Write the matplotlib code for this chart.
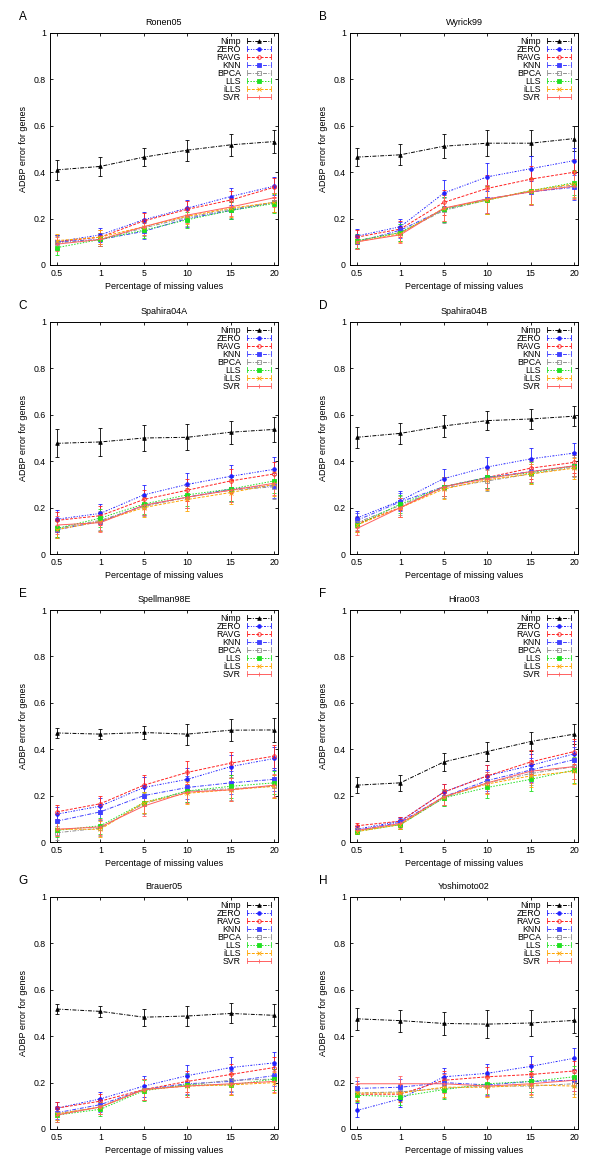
import matplotlib
matplotlib.use("Agg")
import matplotlib.pyplot as plt
from matplotlib.lines import Line2D
from matplotlib.legend_handler import HandlerLine2D
import numpy as np

plt.rcParams['font.family'] = ['Liberation Sans', 'DejaVu Sans']

x_labels = ["0.5", "1", "5", "10", "15", "20"]
methods = ["Nimp", "ZERO", "RAVG", "KNN", "BPCA", "LLS", "iLLS", "SVR"]
letters = ["A", "B", "C", "D", "E", "F", "G", "H"]
titles = ["Ronen05", "Wyrick99", "Spahira04A", "Spahira04B",
          "Spellman98E", "Hirao03", "Brauer05", "Yoshimoto02"]

# values per panel, per method (order as in `methods`)
ronen05 = [
    [0.410, 0.425, 0.465, 0.495, 0.518, 0.532],
    [0.100, 0.130, 0.195, 0.245, 0.295, 0.340],
    [0.100, 0.120, 0.190, 0.240, 0.280, 0.335],
    [0.100, 0.110, 0.145, 0.200, 0.235, 0.270],
    [0.095, 0.110, 0.160, 0.205, 0.240, 0.270],
    [0.075, 0.110, 0.150, 0.195, 0.235, 0.265],
    [0.105, 0.120, 0.165, 0.210, 0.245, 0.270],
    [0.090, 0.110, 0.165, 0.215, 0.250, 0.290],
]
wyrick99 = [
    [0.465, 0.475, 0.512, 0.525, 0.525, 0.545],
    [0.125, 0.165, 0.310, 0.380, 0.415, 0.450],
    [0.120, 0.155, 0.270, 0.330, 0.370, 0.400],
    [0.100, 0.150, 0.240, 0.285, 0.315, 0.335],
    [0.105, 0.140, 0.235, 0.280, 0.320, 0.345],
    [0.105, 0.140, 0.240, 0.280, 0.320, 0.355],
    [0.100, 0.135, 0.245, 0.280, 0.320, 0.350],
    [0.100, 0.130, 0.245, 0.285, 0.315, 0.340],
]
spahira04a = [
    [0.477, 0.483, 0.500, 0.503, 0.525, 0.537],
    [0.150, 0.175, 0.255, 0.300, 0.335, 0.365],
    [0.145, 0.165, 0.235, 0.275, 0.315, 0.345],
    [0.105, 0.140, 0.210, 0.245, 0.280, 0.295],
    [0.110, 0.145, 0.205, 0.245, 0.275, 0.290],
    [0.110, 0.155, 0.215, 0.255, 0.280, 0.315],
    [0.105, 0.140, 0.200, 0.235, 0.265, 0.300],
    [0.125, 0.135, 0.210, 0.245, 0.275, 0.305],
]
spahira04b = [
    [0.503, 0.520, 0.552, 0.575, 0.582, 0.594],
    [0.155, 0.230, 0.325, 0.375, 0.410, 0.435],
    [0.130, 0.200, 0.290, 0.330, 0.370, 0.395],
    [0.145, 0.225, 0.290, 0.330, 0.355, 0.380],
    [0.135, 0.210, 0.285, 0.315, 0.345, 0.375],
    [0.125, 0.215, 0.290, 0.330, 0.350, 0.380],
    [0.125, 0.200, 0.280, 0.320, 0.345, 0.370],
    [0.110, 0.200, 0.290, 0.325, 0.355, 0.380],
]
spellman98e = [
    [0.470, 0.465, 0.472, 0.465, 0.482, 0.483],
    [0.120, 0.155, 0.235, 0.270, 0.325, 0.360],
    [0.130, 0.165, 0.245, 0.300, 0.340, 0.370],
    [0.090, 0.130, 0.200, 0.235, 0.255, 0.270],
    [0.040, 0.060, 0.165, 0.220, 0.230, 0.240],
    [0.050, 0.070, 0.170, 0.220, 0.240, 0.255],
    [0.055, 0.055, 0.170, 0.210, 0.225, 0.240],
    [0.055, 0.065, 0.155, 0.215, 0.225, 0.245],
]
hirao03 = [
    [0.245, 0.255, 0.345, 0.390, 0.433, 0.465],
    [0.055, 0.090, 0.215, 0.285, 0.330, 0.380],
    [0.070, 0.090, 0.215, 0.285, 0.345, 0.390],
    [0.050, 0.085, 0.195, 0.265, 0.310, 0.355],
    [0.050, 0.075, 0.190, 0.255, 0.295, 0.325],
    [0.045, 0.075, 0.190, 0.235, 0.270, 0.310],
    [0.045, 0.075, 0.195, 0.250, 0.285, 0.305],
    [0.050, 0.080, 0.195, 0.255, 0.305, 0.325],
]
brauer05 = [
    [0.517, 0.507, 0.482, 0.487, 0.498, 0.490],
    [0.090, 0.130, 0.185, 0.230, 0.265, 0.285],
    [0.090, 0.120, 0.170, 0.205, 0.235, 0.265],
    [0.070, 0.105, 0.170, 0.195, 0.205, 0.230],
    [0.065, 0.095, 0.170, 0.190, 0.210, 0.215],
    [0.060, 0.085, 0.165, 0.190, 0.190, 0.215],
    [0.065, 0.095, 0.170, 0.185, 0.190, 0.200],
    [0.060, 0.095, 0.170, 0.185, 0.195, 0.205],
]
yoshimoto02 = [
    [0.475, 0.467, 0.455, 0.452, 0.457, 0.468],
    [0.080, 0.130, 0.225, 0.240, 0.270, 0.305],
    [0.150, 0.150, 0.210, 0.225, 0.235, 0.250],
    [0.175, 0.180, 0.200, 0.190, 0.205, 0.210],
    [0.155, 0.160, 0.175, 0.185, 0.185, 0.195],
    [0.145, 0.140, 0.170, 0.195, 0.205, 0.225],
    [0.155, 0.155, 0.180, 0.180, 0.190, 0.185],
    [0.195, 0.195, 0.195, 0.185, 0.195, 0.210],
]
panels = [ronen05, wyrick99, spahira04a, spahira04b,
          spellman98e, hirao03, brauer05, yoshimoto02]

# error-bar half widths: Nimp per panel, and a typical one for the other methods
nimp_err = [
    [0.042, 0.040, 0.040, 0.045, 0.048, 0.048],
    [0.040, 0.045, 0.052, 0.055, 0.055, 0.052],
    [0.060, 0.062, 0.058, 0.056, 0.050, 0.053],
    [0.045, 0.045, 0.048, 0.040, 0.042, 0.043],
    [0.020, 0.020, 0.030, 0.045, 0.048, 0.050],
    [0.035, 0.035, 0.038, 0.040, 0.040, 0.043],
    [0.023, 0.023, 0.037, 0.045, 0.043, 0.048],
    [0.048, 0.047, 0.050, 0.060, 0.058, 0.055],
]
other_err = [
    [0.030, 0.030, 0.035, 0.035, 0.038, 0.040],
    [0.030, 0.035, 0.055, 0.060, 0.055, 0.055],
    [0.038, 0.040, 0.042, 0.048, 0.050, 0.052],
    [0.030, 0.040, 0.042, 0.045, 0.045, 0.045],
    [0.030, 0.035, 0.045, 0.048, 0.050, 0.050],
    [0.012, 0.018, 0.035, 0.045, 0.050, 0.055],
    [0.028, 0.030, 0.045, 0.045, 0.045, 0.045],
    [0.030, 0.035, 0.040, 0.042, 0.045, 0.045],
]

styles = {
    "Nimp": dict(color="#000000", ls=(0, (4, 1.5, 1, 1.5)), marker="^", mfc="#000000"),
    "ZERO": dict(color="#2020ff", ls=(0, (2, 1.5, 1, 1.5, 1, 1.5)), marker="o", mfc="#2020ff"),
    "RAVG": dict(color="#ff2020", ls=(0, (3, 1.5)), marker="o", mfc="none"),
    "KNN": dict(color="#4040ff", ls=(0, (4, 1.5, 1, 1.5)), marker="s", mfc="#4040ff"),
    "BPCA": dict(color="#909090", ls=(0, (4, 1.5, 1, 1.5)), marker="s", mfc="none"),
    "LLS": dict(color="#20e020", ls=(0, (1.5, 1.5)), marker="s", mfc="#20e020"),
    "iLLS": dict(color="#ffa500", ls=(0, (3, 1.5)), marker="x", mfc="#ffa500"),
    "SVR": dict(color="#ff6060", ls="-", marker="+", mfc="#ff6060"),
}


class CapHandler(HandlerLine2D):
    """gnuplot-like key sample: line with marker in the middle and caps at both ends."""
    def create_artists(self, legend, orig_handle, xdescent, ydescent,
                       width, height, fontsize, trans):
        artists = super().create_artists(legend, orig_handle, xdescent, ydescent,
                                         width, height, fontsize, trans)
        y = height / 2.0 - ydescent
        for xx in (-xdescent, width - xdescent):
            cap = Line2D([xx, xx], [y - 1.8, y + 1.8], color=orig_handle.get_color(),
                         lw=0.6, transform=trans)
            artists.append(cap)
        return artists


fig = plt.figure(figsize=(6.0, 11.66), dpi=100)
W, H = 600.0, 1166.0
col_left = [50, 350]
ax_w = 228
rows_top = [33, 322, 610, 897]
ax_h = 232

xpos = np.arange(len(x_labels))
for i, data in enumerate(panels):
    r, c = divmod(i, 2)
    left = col_left[c]
    top = rows_top[r]
    ax = fig.add_axes([left / W, 1 - (top + ax_h) / H, ax_w / W, ax_h / H])
    handles = []
    for j, m in enumerate(methods):
        st = styles[m]
        err = nimp_err[i] if m == "Nimp" else other_err[i]
        ax.errorbar(xpos, data[j], yerr=err, color=st["color"], ls=st["ls"],
                    lw=0.7, marker=st["marker"], ms=2.6, mfc=st["mfc"],
                    mec=st["color"], mew=0.6, elinewidth=0.6, capsize=1.5,
                    capthick=0.6)
        handles.append(Line2D([], [], color=st["color"], ls=st["ls"], lw=0.7,
                              marker=st["marker"], ms=2.6, mfc=st["mfc"],
                              mec=st["color"], mew=0.6, label=m))
    ax.set_xlim(-0.16, 5.09)
    ax.set_ylim(0, 1)
    ax.set_xticks(xpos)
    ax.set_xticklabels(x_labels)
    ax.set_yticks([0, 0.2, 0.4, 0.6, 0.8, 1.0])
    ax.set_yticklabels(["0", "0.2", "0.4", "0.6", "0.8", "1"])
    ax.tick_params(direction="in", top=True, right=True, labelsize=6.3,
                   length=2.5, width=0.6, pad=3)
    for sp in ax.spines.values():
        sp.set_linewidth(0.7)
    ax.set_xlabel("Percentage of missing values", fontsize=6.5, labelpad=3)
    ax.set_ylabel("ADBP error for genes", fontsize=6.5, labelpad=4)
    ax.set_title(titles[i], fontsize=6.5, pad=6)
    fig.text((left - 27) / W, 1 - (top - 16) / H, letters[i], fontsize=8.5,
             ha="center", va="center")
    ax.legend(handles=handles, loc="upper right", markerfirst=False,
              frameon=False, fontsize=6.3, labelspacing=-0.12,
              handlelength=2.7, handletextpad=0.7, numpoints=1,
              borderaxespad=0.15, borderpad=0.3,
              bbox_to_anchor=(0.985, 1.0),
              handler_map={Line2D: CapHandler(numpoints=1)})

fig.savefig("out.png", dpi=100)
